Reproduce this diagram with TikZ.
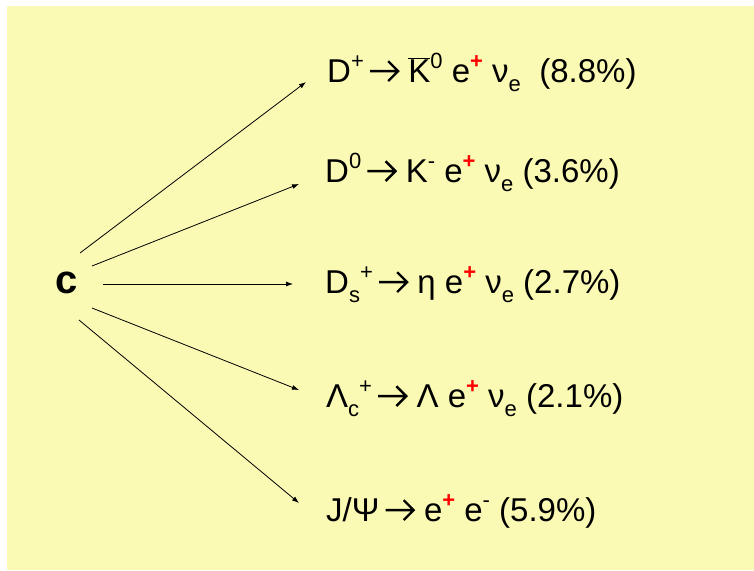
\documentclass[tikz,border=0pt]{standalone}
\usepackage{fontspec}
\setmainfont{Liberation Sans}
\usetikzlibrary{arrows.meta}

\definecolor{slidebg}{RGB}{250,250,180}
\newcommand{\up}[1]{\raisebox{0.40em}{\fontsize{22}{22}\selectfont #1}}
\newcommand{\dn}[1]{\raisebox{-0.28em}{\fontsize{22}{22}\selectfont #1}}
\newcommand{\posi}{\up{\textcolor{red}{\bfseries +}}}
\newcommand{\goes}{\hspace{0.15em}\tikz[baseline=-0.33em, line width=2.4pt]
    \draw (0,0) -- (0.85em,0) (0.55em,0.3em) -- (0.85em,0) -- (0.55em,-0.3em);\ }

\begin{document}
\begin{tikzpicture}[x=1pt,y=-1pt,
    decay/.style={font=\fontsize{33}{36}\selectfont, anchor=base west, inner sep=0pt},
    branch/.style={-{Latex[length=7pt,width=5pt]}, line width=0.8pt}]
\useasboundingbox (0,0) rectangle (754,570);
\fill[slidebg] (7,6) rectangle (754,570);   % slide background

\node[font=\bfseries\fontsize{40}{40}\selectfont, inner sep=0pt] (c) at (67,283) {c};

% decay channels
\node[decay] (dplus)  at (327,82)  {D\up{+}\goes$\overline{\mbox{K}}$\up{0} e\posi{} ν\dn{e} \ (8.8\%)};
\node[decay] (dzero)  at (325,182) {D\up{0}\goes K\up{-} e\posi{} ν\dn{e} (3.6\%)};
\node[decay] (dsplus) at (325,293) {D\dn{s}\up{+}\goes η e\posi{} ν\dn{e} (2.7\%)};
\node[decay] (lambda) at (326,407) {Λ\dn{c}\up{+}\goes Λ e\posi{} ν\dn{e} (2.1\%)};
\node[decay] (jpsi)   at (326,521) {J/Ψ\goes e\posi{} e\up{-} (5.9\%)};

% arrows out of c
\foreach \i/\sx/\sy/\ex/\ey in {1/80/253/306/82, 2/92/266/299/184, 3/103/284/293/284,
                                4/92/308/299/390, 5/79/320/299/503} {
    \coordinate (from\i) at (\sx,\sy);
    \coordinate (to\i) at (\ex,\ey);
    \draw[branch] (from\i) -- (to\i);
}
\end{tikzpicture}
\end{document}
